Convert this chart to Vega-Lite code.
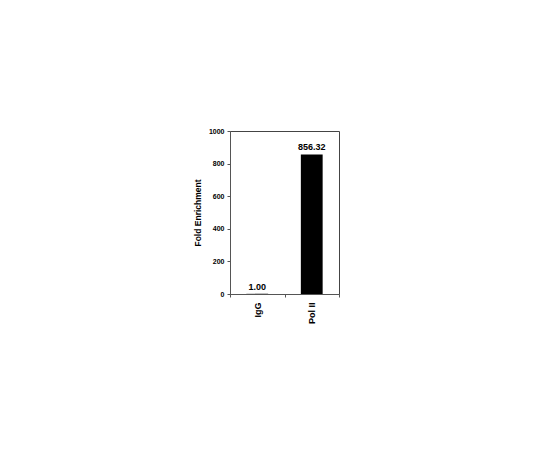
{
  "$schema": "https://vega.github.io/schema/vega-lite/v6.json",
  "description": "Fold enrichment bar chart, IgG vs Pol II.",
  "autosize": "none",
  "padding": {"left": 230, "top": 131, "right": 201, "bottom": 156},
  "width": 109,
  "height": 163,
  "background": "white",
  "config": {
    "font": "Liberation Sans",
    "view": {"stroke": "#444444", "strokeWidth": 1},
    "axis": {
      "domainColor": "#555555",
      "tickColor": "#555555",
      "tickSize": 3,
      "labelColor": "black",
      "titleColor": "black",
      "labelFontWeight": "bold",
      "titleFontWeight": "bold",
      "grid": false
    }
  },
  "data": {
    "values": [
      {"sample": "IgG", "fold": 1.0, "label": "1.00"},
      {"sample": "Pol II", "fold": 856.32, "label": "856.32"}
    ]
  },
  "encoding": {
    "x": {
      "field": "sample",
      "type": "nominal",
      "sort": null,
      "scale": {"paddingInner": 0, "paddingOuter": 0},
      "axis": {
        "title": null,
        "labelAngle": -90,
        "labelFontSize": 9,
        "labelPadding": 5,
        "tickBand": "extent"
      }
    },
    "y": {
      "field": "fold",
      "type": "quantitative",
      "scale": {"domain": [0, 1000]},
      "axis": {
        "title": "Fold Enrichment",
        "titleFontSize": 8.5,
        "titlePadding": 6,
        "labelFontSize": 7,
        "labelPadding": 3,
        "format": "d",
        "values": [0, 200, 400, 600, 800, 1000]
      }
    }
  },
  "layer": [
    {
      "mark": {"type": "bar", "color": "black", "width": {"band": 0.4}}
    },
    {
      "mark": {
        "type": "text",
        "dy": -7,
        "fontSize": 9,
        "fontWeight": "bold",
        "color": "black"
      },
      "encoding": {"text": {"field": "label"}}
    }
  ]
}
